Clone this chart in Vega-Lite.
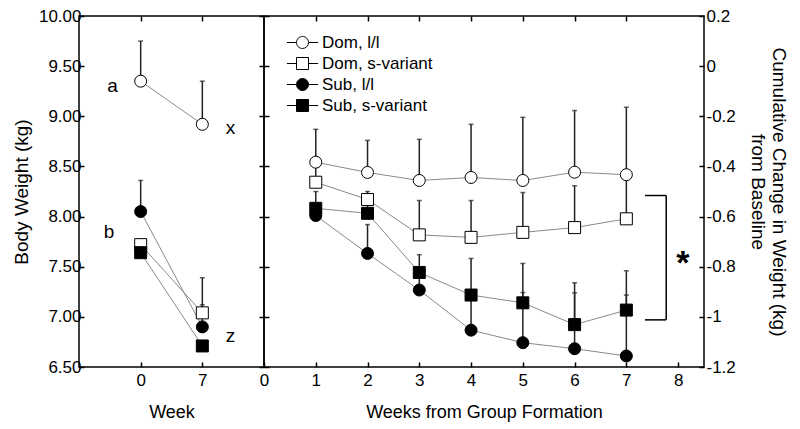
{
  "$schema": "https://vega.github.io/schema/vega-lite/v6.json",
  "padding": {"left": 11, "top": 6, "right": 5, "bottom": 5},
  "background": "white",
  "bounds": "flush",
  "config": {
    "font": "Liberation Sans",
    "view": {"stroke": "black", "strokeWidth": 1.5},
    "axis": {"grid": false, "domain": false, "tickColor": "black", "tickWidth": 1.5, "tickSize": -5, "minExtent": 0, "labelFont": "Liberation Sans", "labelFontSize": 17, "labelColor": "black", "titleFont": "Liberation Sans", "titleFontSize": 18, "titleFontWeight": "normal", "titleColor": "black", "labelFlush": false, "labelOverlap": false, "labelBound": false}
  },
  "datasets": {
    "left": [
      {"week": 0, "group": "Dom, l/l", "value": 9.35, "top": 9.75},
      {"week": 7, "group": "Dom, l/l", "value": 8.92, "top": 9.35},
      {"week": 0, "group": "Dom, s-variant", "value": 7.72, "top": null},
      {"week": 7, "group": "Dom, s-variant", "value": 7.04, "top": 7.39},
      {"week": 0, "group": "Sub, l/l", "value": 8.05, "top": 8.36},
      {"week": 7, "group": "Sub, l/l", "value": 6.9, "top": 7.12},
      {"week": 0, "group": "Sub, s-variant", "value": 7.64, "top": null},
      {"week": 7, "group": "Sub, s-variant", "value": 6.71, "top": null}
    ],
    "letters": [
      {"x": -3.2, "y": 9.3, "label": "a"},
      {"x": 10.2, "y": 8.88, "label": "x"},
      {"x": -3.6, "y": 7.85, "label": "b"},
      {"x": 10.2, "y": 6.81, "label": "z"}
    ],
    "right": [
      {"week": 1, "group": "Dom, l/l", "value": -0.383, "top": -0.252},
      {"week": 2, "group": "Dom, l/l", "value": -0.424, "top": -0.296},
      {"week": 3, "group": "Dom, l/l", "value": -0.456, "top": -0.292},
      {"week": 4, "group": "Dom, l/l", "value": -0.444, "top": -0.232},
      {"week": 5, "group": "Dom, l/l", "value": -0.456, "top": -0.204},
      {"week": 6, "group": "Dom, l/l", "value": -0.423, "top": -0.177},
      {"week": 7, "group": "Dom, l/l", "value": -0.433, "top": -0.164},
      {"week": 1, "group": "Dom, s-variant", "value": -0.463, "top": -0.4},
      {"week": 2, "group": "Dom, s-variant", "value": -0.532, "top": -0.5},
      {"week": 3, "group": "Dom, s-variant", "value": -0.673, "top": -0.536},
      {"week": 4, "group": "Dom, s-variant", "value": -0.683, "top": -0.536},
      {"week": 5, "group": "Dom, s-variant", "value": -0.663, "top": -0.504},
      {"week": 6, "group": "Dom, s-variant", "value": -0.644, "top": -0.477},
      {"week": 7, "group": "Dom, s-variant", "value": -0.609, "top": -0.45},
      {"week": 1, "group": "Sub, l/l", "value": -0.596, "top": -0.56},
      {"week": 2, "group": "Sub, l/l", "value": -0.747, "top": -0.632},
      {"week": 3, "group": "Sub, l/l", "value": -0.893, "top": -0.84},
      {"week": 4, "group": "Sub, l/l", "value": -1.053, "top": -0.92},
      {"week": 5, "group": "Sub, l/l", "value": -1.103, "top": -0.903},
      {"week": 6, "group": "Sub, l/l", "value": -1.127, "top": -0.904},
      {"week": 7, "group": "Sub, l/l", "value": -1.156, "top": -0.913},
      {"week": 1, "group": "Sub, s-variant", "value": -0.567, "top": -0.5},
      {"week": 2, "group": "Sub, s-variant", "value": -0.587, "top": -0.55},
      {"week": 3, "group": "Sub, s-variant", "value": -0.823, "top": -0.752},
      {"week": 4, "group": "Sub, s-variant", "value": -0.913, "top": -0.767},
      {"week": 5, "group": "Sub, s-variant", "value": -0.944, "top": -0.787},
      {"week": 6, "group": "Sub, s-variant", "value": -1.031, "top": -0.864},
      {"week": 7, "group": "Sub, s-variant", "value": -0.973, "top": -0.816}
    ],
    "bracket": [
      {"x": 7.77, "x2": 7.77, "y": -0.516, "y2": -1.012},
      {"x": 7.36, "x2": 7.77, "y": -0.516, "y2": -0.516},
      {"x": 7.36, "x2": 7.77, "y": -1.012, "y2": -1.012}
    ],
    "star": [{"x": 8.09, "y": -0.772, "label": "*"}]
  },
  "spacing": 0,
  "resolve": {"scale": {"shape": "independent", "fill": "independent"}, "legend": {"shape": "independent", "fill": "independent"}},
  "hconcat": [
    {
      "width": 185,
      "height": 351,
      "resolve": {"axis": {"x": "independent", "y": "independent"}},
      "layer": [
        {
          "data": {"name": "left"},
          "transform": [{"filter": "isValid(datum.top)"}],
          "mark": {"type": "rule", "color": "#222", "strokeWidth": 1.5},
          "encoding": {
            "x": {"field": "week", "type": "quantitative", "scale": {"domain": [-7, 14], "nice": false, "zero": false},
              "axis": {"orient": "bottom", "values": [0, 7], "title": "Week", "format": "d", "labelPadding": 10, "titlePadding": 15}},
            "y": {"field": "top", "type": "quantitative", "scale": {"domain": [6.5, 10], "nice": false, "zero": false},
              "axis": {"orient": "left", "values": [6.5, 7, 7.5, 8, 8.5, 9, 9.5, 10], "format": ".2f", "title": "Body Weight (kg)", "labelPadding": 3, "titlePadding": 7, "titleFontSize": 19}},
            "y2": {"field": "value"}
          }
        },
        {
          "data": {"name": "left"},
          "transform": [{"filter": "isValid(datum.top)"}],
          "mark": {"type": "tick", "orient": "horizontal", "color": "#222", "size": 5, "thickness": 1.5},
          "encoding": {
            "x": {"field": "week", "type": "quantitative",
              "axis": {"orient": "top", "values": [0, 7], "labels": false, "title": null}},
            "y": {"field": "top", "type": "quantitative",
              "axis": {"orient": "right", "values": [6.5, 7, 7.5, 8, 8.5, 9, 9.5, 10], "labels": false, "title": null}}
          }
        },
        {
          "data": {"name": "left"},
          "mark": {"type": "line", "color": "#8a8a8a", "strokeWidth": 1},
          "encoding": {
            "x": {"field": "week", "type": "quantitative", "axis": null},
            "y": {"field": "value", "type": "quantitative", "axis": null},
            "detail": {"field": "group"}
          }
        },
        {
          "data": {"name": "left"},
          "mark": {"type": "point", "size": 144, "stroke": "black", "strokeWidth": 1, "opacity": 1, "fillOpacity": 1},
          "encoding": {
            "x": {"field": "week", "type": "quantitative", "axis": null},
            "y": {"field": "value", "type": "quantitative", "axis": null},
            "shape": {"field": "group", "type": "nominal", "scale": {"domain": ["Dom, l/l", "Dom, s-variant", "Sub, l/l", "Sub, s-variant"], "range": ["circle", "square", "circle", "square"]}, "legend": null},
            "fill": {"field": "group", "type": "nominal", "scale": {"domain": ["Dom, l/l", "Dom, s-variant", "Sub, l/l", "Sub, s-variant"], "range": ["white", "white", "black", "black"]}, "legend": null}
          }
        },
        {
          "data": {"name": "letters"},
          "mark": {"type": "text", "fontSize": 19, "color": "black", "baseline": "middle", "align": "center"},
          "encoding": {
            "x": {"field": "x", "type": "quantitative", "axis": null},
            "y": {"field": "y", "type": "quantitative", "axis": null},
            "text": {"field": "label"}
          }
        }
      ]
    },
    {
      "width": 440,
      "height": 351,
      "resolve": {"axis": {"x": "independent", "y": "independent"}},
      "layer": [
        {
          "data": {"name": "right"},
          "mark": {"type": "rule", "color": "#222", "strokeWidth": 1.5},
          "encoding": {
            "x": {"field": "week", "type": "quantitative", "scale": {"domain": [0, 8.5], "nice": false, "zero": false},
              "axis": {"orient": "bottom", "values": [0, 1, 2, 3, 4, 5, 6, 7, 8], "title": "Weeks from Group Formation", "format": "d", "labelPadding": 10, "titlePadding": 15}},
            "y": {"field": "top", "type": "quantitative", "scale": {"domain": [-1.2, 0.2], "nice": false, "zero": false},
              "axis": {"orient": "left", "values": [-1.2, -1, -0.8, -0.6, -0.4, -0.2, 0, 0.2], "labels": false, "title": null}},
            "y2": {"field": "value"}
          }
        },
        {
          "data": {"name": "right"},
          "mark": {"type": "tick", "orient": "horizontal", "color": "#222", "size": 5, "thickness": 1.5},
          "encoding": {
            "x": {"field": "week", "type": "quantitative",
              "axis": {"orient": "top", "values": [1, 2, 3, 4, 5, 6, 7], "labels": false, "title": null}},
            "y": {"field": "top", "type": "quantitative",
              "axis": {"orient": "right", "values": [-1.2, -1, -0.8, -0.6, -0.4, -0.2, 0, 0.2], "labelExpr": "datum.value < 0 ? '-' + format(-datum.value, '') : format(datum.value, '')", "labelPadding": 7, "title": ["Cumulative Change in Weight (kg)", "from Baseline"], "titlePadding": 12, "titleFontSize": 19}}
          }
        },
        {
          "data": {"name": "right"},
          "mark": {"type": "line", "color": "#8a8a8a", "strokeWidth": 1},
          "encoding": {
            "x": {"field": "week", "type": "quantitative", "axis": null},
            "y": {"field": "value", "type": "quantitative", "axis": null},
            "detail": {"field": "group"}
          }
        },
        {
          "data": {"name": "right"},
          "mark": {"type": "point", "size": 144, "stroke": "black", "strokeWidth": 1, "opacity": 1, "fillOpacity": 1},
          "encoding": {
            "x": {"field": "week", "type": "quantitative", "axis": null},
            "y": {"field": "value", "type": "quantitative", "axis": null},
            "shape": {"field": "group", "type": "nominal", "scale": {"domain": ["Sub, s-variant", "Sub, l/l", "Dom, s-variant", "Dom, l/l"], "range": ["square", "circle", "square", "circle"]}, "legend": null},
            "fill": {"field": "group", "type": "nominal", "scale": {"domain": ["Dom, l/l", "Dom, s-variant", "Sub, l/l", "Sub, s-variant"], "range": ["white", "white", "black", "black"]},
              "legend": {"orient": "none", "legendX": 30, "legendY": 18, "title": null, "padding": 0, "labelFontSize": 17, "labelColor": "black", "labelOffset": 11, "rowPadding": 3, "symbolSize": 144, "symbolStrokeColor": "black", "symbolStrokeWidth": 1,
                "symbolType": {"expr": "(datum.value == 'Dom, l/l' || datum.value == 'Sub, l/l') ? 'M-2.6,0H-1M1,0H2.6M1,0A1,1,0,1,1,-1,0A1,1,0,1,1,1,0Z' : 'M-2.6,0H-1M1,0H2.6M-1,-1H1V1H-1Z'"},
                "encode": {"symbols": {"stroke": {"value": "black"}, "strokeWidth": {"value": 1}}}}}
          }
        },
        {
          "data": {"name": "bracket"},
          "mark": {"type": "rule", "color": "black", "strokeWidth": 1.5},
          "encoding": {
            "x": {"field": "x", "type": "quantitative", "axis": null},
            "x2": {"field": "x2"},
            "y": {"field": "y", "type": "quantitative", "axis": null},
            "y2": {"field": "y2"}
          }
        },
        {
          "data": {"name": "star"},
          "mark": {"type": "text", "fontSize": 34, "fontWeight": "bold", "color": "black", "baseline": "middle", "align": "center", "dy": 4},
          "encoding": {
            "x": {"field": "x", "type": "quantitative", "axis": null},
            "y": {"field": "y", "type": "quantitative", "axis": null},
            "text": {"field": "label"}
          }
        }
      ]
    }
  ]
}
